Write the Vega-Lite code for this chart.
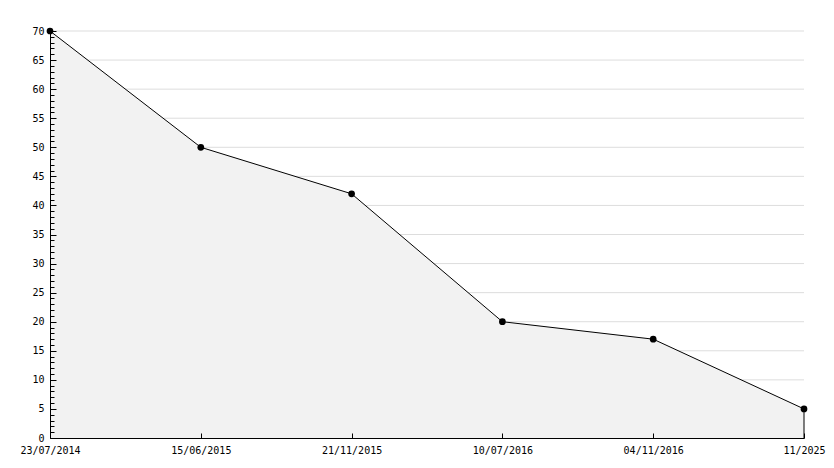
{
  "$schema": "https://vega.github.io/schema/vega-lite/v6.json",
  "width": 754,
  "height": 407,
  "autosize": {"type": "none"},
  "padding": {"left": 50, "top": 31, "right": 30, "bottom": 30},
  "background": "white",
  "config": {
    "view": {"stroke": null},
    "font": "DejaVu Sans Mono",
    "axis": {"labelFont": "DejaVu Sans Mono", "labelFontSize": 10, "labelColor": "#000", "domainColor": "#000", "tickColor": "#000", "title": null}
  },
  "datasets": {
    "series": [
      {"date": "23/07/2014", "value": 70},
      {"date": "15/06/2015", "value": 50},
      {"date": "21/11/2015", "value": 42},
      {"date": "10/07/2016", "value": 20},
      {"date": "04/11/2016", "value": 17},
      {"date": "11/2025", "value": 5}
    ],
    "gridlevels": [
      {"value": 5}, {"value": 10}, {"value": 15}, {"value": 20}, {"value": 25}, {"value": 30}, {"value": 35},
      {"value": 40}, {"value": 45}, {"value": 50}, {"value": 55}, {"value": 60}, {"value": 65}, {"value": 70}
    ]
  },
  "encoding": {
    "y": {
      "field": "value",
      "type": "quantitative",
      "scale": {"domain": [0, 70], "nice": false},
      "axis": {
        "values": [0,1,2,3,4,5,6,7,8,9,10,11,12,13,14,15,16,17,18,19,20,21,22,23,24,25,26,27,28,29,30,31,32,33,34,35,36,37,38,39,40,41,42,43,44,45,46,47,48,49,50,51,52,53,54,55,56,57,58,59,60,61,62,63,64,65,66,67,68,69,70],
        "labelExpr": "datum.value % 5 === 0 ? datum.label : ''",
        "tickSize": {"condition": {"test": "datum.value % 5 === 0", "value": -6}, "value": -4},
        "grid": false,
        "labelPadding": 12,
        "labelFlush": false,
        "labelOverlap": false,
        "zindex": 1
      }
    }
  },
  "layer": [
    {
      "data": {"name": "gridlevels"},
      "mark": {"type": "rule", "color": "#dddddd", "strokeWidth": 1}
    },
    {
      "data": {"name": "series"},
      "mark": {"type": "area", "color": "#f2f2f2", "opacity": 1},
      "encoding": {
        "x": {
          "field": "date",
          "type": "ordinal",
          "sort": null,
          "scale": {"type": "point", "padding": 0},
          "axis": {"labelAngle": 0, "tickSize": -5, "labelPadding": 12, "grid": false, "domainWidth": 1, "zindex": 1}
        }
      }
    },
    {
      "data": {"name": "series"},
      "mark": {"type": "line", "color": "#000", "strokeWidth": 1},
      "encoding": {
        "x": {"field": "date", "type": "ordinal", "sort": null}
      }
    },
    {
      "data": {"name": "series"},
      "transform": [{"filter": "datum.date === '11/2025'"}],
      "mark": {"type": "rule", "color": "#000", "strokeWidth": 1},
      "encoding": {
        "x": {"field": "date", "type": "ordinal", "sort": null},
        "y2": {"datum": 0}
      }
    },
    {
      "data": {"name": "series"},
      "mark": {"type": "point", "filled": true, "color": "#000", "size": 45, "opacity": 1},
      "encoding": {
        "x": {"field": "date", "type": "ordinal", "sort": null}
      }
    }
  ]
}
